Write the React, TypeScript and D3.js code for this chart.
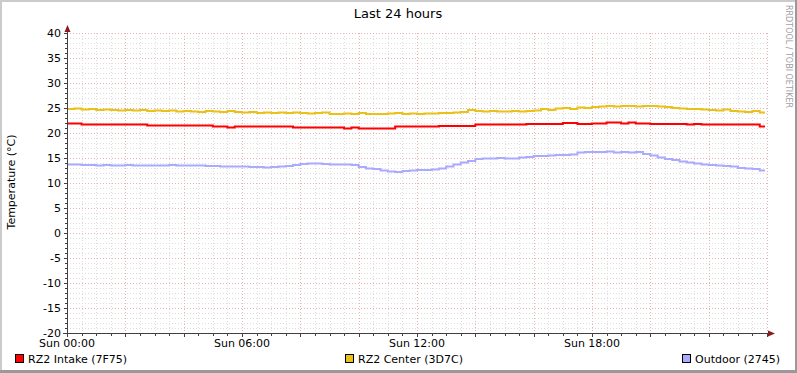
import React from "react";
import * as d3 from "d3";

const W = 797;
const H = 373;

const title = "Last 24 hours";
const yAxisLabel = "Temperature (°C)";
const watermark = "RRDTOOL / TOBI OETIKER";

const xTickLabels = ["Sun 00:00", "Sun 06:00", "Sun 12:00", "Sun 18:00"];
const xTickHours = [0, 6, 12, 18];
const yTickValues = [40, 35, 30, 25, 20, 15, 10, 5, 0, -5, -10, -15, -20];

const seriesNames = ["RZ2 Intake (7F75)", "RZ2 Center (3D7C)", "Outdoor (2745)"];
const seriesColors = ["#FF0000", "#EAC117", "#AAAAFF"];

// samples every 15 minutes from Sun 00:00
const stepHours = 0.25;
const endHour = 23.93;

const intake = [
  21.9, 21.9, 21.7, 21.7, 21.7, 21.7, 21.7, 21.7, 21.7, 21.7, 21.7, 21.5,
  21.5, 21.5, 21.5, 21.5, 21.5, 21.5, 21.5, 21.5, 21.3, 21.3, 21.1, 21.3,
  21.3, 21.3, 21.3, 21.3, 21.3, 21.3, 21.3, 21.1, 21.1, 21.1, 21.1, 21.1,
  21.1, 21.1, 20.9, 21.1, 20.9, 20.9, 20.9, 20.9, 20.9, 21.3, 21.3, 21.3,
  21.3, 21.3, 21.3, 21.4, 21.4, 21.4, 21.4, 21.4, 21.7, 21.7, 21.7, 21.7,
  21.7, 21.7, 21.7, 21.8, 21.8, 21.8, 21.8, 21.8, 22.0, 22.0, 21.8, 21.8,
  21.9, 21.9, 22.1, 22.1, 21.9, 22.1, 21.9, 21.9, 21.8, 21.8, 21.8, 21.8,
  21.8, 21.7, 21.8, 21.7, 21.7, 21.7, 21.7, 21.7, 21.7, 21.7, 21.7, 21.3,
];

const center = [
  24.8, 24.9, 24.7, 24.8, 24.6, 24.7, 24.6, 24.5, 24.6, 24.5, 24.6, 24.4,
  24.5, 24.4, 24.5, 24.3, 24.4, 24.3, 24.2, 24.4, 24.3, 24.2, 24.4, 24.2,
  24.1, 24.2, 24.0, 24.1, 24.0, 24.1, 24.0, 24.1, 24.0, 23.9, 24.0, 24.1,
  23.8, 23.8, 23.9, 23.8, 24.0, 23.8, 23.8, 23.8, 23.9, 24.0, 23.8, 23.9,
  23.8, 23.9, 23.9, 24.0, 24.0, 24.1, 24.2, 24.6, 24.4, 24.3, 24.4, 24.3,
  24.3, 24.4, 24.3, 24.4, 24.5, 24.8, 24.6, 24.9, 25.0, 24.8, 25.1, 25.0,
  25.2, 25.3, 25.4, 25.3, 25.4, 25.4, 25.3, 25.4, 25.4, 25.3, 25.2, 25.0,
  24.9, 24.8, 24.8, 24.7, 24.6, 24.5, 24.7, 24.4, 24.3, 24.2, 24.4, 24.1,
];

const outdoor = [
  13.7, 13.7, 13.6, 13.6, 13.5, 13.6, 13.5, 13.5, 13.6, 13.5, 13.5, 13.5,
  13.5, 13.5, 13.6, 13.5, 13.5, 13.5, 13.5, 13.4, 13.4, 13.3, 13.3, 13.3,
  13.3, 13.2, 13.2, 13.1, 13.2, 13.3, 13.4, 13.6, 13.8, 13.9, 13.9, 13.8,
  13.7, 13.7, 13.7, 13.6, 13.2, 12.9, 12.8, 12.5, 12.3, 12.2, 12.4, 12.5,
  12.6, 12.6, 12.7, 12.9, 13.3, 13.7, 14.1, 14.4, 14.8, 14.9, 14.9, 15.0,
  14.9, 14.9, 15.1, 15.2, 15.4, 15.4, 15.5, 15.6, 15.6, 15.7, 16.1, 16.2,
  16.2, 16.2, 16.3, 16.1, 16.2, 16.1, 16.2, 15.8, 15.5, 15.1, 14.8, 14.6,
  14.3, 14.1, 13.9, 13.7, 13.6, 13.5, 13.4, 13.3, 13.0, 12.9, 12.8, 12.5,
];

const seriesValues = [intake, center, outdoor];

const legendX = [15, 345, 682];

const FONT = "'DejaVu Sans', sans-serif";

export default function App() {
  const x = d3.scaleLinear().domain([0, 24]).range([67, 767]);
  const y = d3.scaleLinear().domain([-20, 40]).range([333, 33]);

  const minorX = d3.range(0, 24.001, 0.5);
  const majorX = d3.range(0, 24.001, 2);
  const minorY = d3.range(-20, 40.001, 1);
  const majorY = yTickValues;

  const line = d3
    .line<[number, number]>()
    .x((d) => x(d[0]))
    .y((d) => y(d[1]))
    .curve(d3.curveStepAfter);

  const toPts = (vals: number[]): [number, number][] => {
    const pts: [number, number][] = vals.map((v, i) => [i * stepHours, v]);
    pts.push([endHour, vals[vals.length - 1]]);
    return pts;
  };

  return (
    <svg
      width={W}
      height={H}
      style={{ position: "absolute", left: 0, top: 0, display: "block", background: "#fff" }}
      fontFamily={FONT}
    >
      <rect x={0} y={0} width={W} height={H} fill="#ffffff" />
      {/* 3D border */}
      <rect x={0} y={0} width={W} height={2} fill="#CBCBCB" />
      <rect x={0} y={0} width={2} height={H} fill="#CBCBCB" />
      <rect x={0} y={H - 3} width={W} height={3} fill="#999999" />
      <rect x={W - 2} y={0} width={2} height={H} fill="#999999" />

      {/* minor grid */}
      <g stroke="#DDDDDD" strokeWidth={1} strokeDasharray="1,2" shapeRendering="crispEdges">
        {minorX
          .filter((h) => !majorX.includes(h))
          .map((h) => (
            <line key={"mx" + h} x1={Math.round(x(h)) + 0.5} x2={Math.round(x(h)) + 0.5} y1={33} y2={333} />
          ))}
        {minorY
          .filter((v) => v % 5 !== 0)
          .map((v) => (
            <line key={"my" + v} x1={67} x2={767} y1={y(v) + 0.5} y2={y(v) + 0.5} />
          ))}
      </g>
      {/* major grid */}
      <g stroke="#EBB0B0" strokeWidth={1} strokeDasharray="1,2" shapeRendering="crispEdges">
        {majorX.map((h) => (
          <line key={"Mx" + h} x1={Math.round(x(h)) + 0.5} x2={Math.round(x(h)) + 0.5} y1={33} y2={333} />
        ))}
        {majorY.map((v) => (
          <line key={"My" + v} x1={67} x2={767} y1={y(v) + 0.5} y2={y(v) + 0.5} />
        ))}
      </g>

      {/* series */}
      {seriesValues.map((vals, i) => (
        <path key={"s" + i} d={line(toPts(vals)) || ""} fill="none" stroke={seriesColors[i]} strokeWidth={2} />
      ))}

      {/* axes */}
      <g stroke="#404040" strokeWidth={1} shapeRendering="crispEdges">
        <line x1={67.5} x2={67.5} y1={28} y2={337} />
        <line x1={63} x2={771} y1={333.5} y2={333.5} />
        {minorY.map((v) => (
          <line key={"ty" + v} x1={v % 5 === 0 ? 64 : 65} x2={67} y1={y(v) + 0.5} y2={y(v) + 0.5} />
        ))}
        {minorX.map((h) => (
          <line key={"tx" + h} x1={Math.round(x(h)) + 0.5} x2={Math.round(x(h)) + 0.5} y1={334} y2={h % 2 === 0 ? 337 : 336} />
        ))}
      </g>
      <path d="M64.5,32 L67.5,25 L70.5,32 Z" fill="#8B1A1A" />
      <path d="M768,330.5 L775,333.5 L768,336.5 Z" fill="#8B1A1A" />

      {/* y tick labels */}
      <g fontSize={11} fill="#000" textAnchor="end">
        {yTickValues.map((v) => (
          <text key={"yl" + v} x={61} y={y(v) + 4}>
            {v}
          </text>
        ))}
      </g>
      {/* x tick labels */}
      <g fontSize={11} fill="#000" textAnchor="middle">
        {xTickHours.map((h, i) => (
          <text key={"xl" + h} x={x(h)} y={347}>
            {xTickLabels[i]}
          </text>
        ))}
      </g>

      {/* title */}
      <text x={398} y={18} fontSize={13} textAnchor="middle" fill="#000">
        {title}
      </text>
      {/* y axis label */}
      <text transform="translate(15,182) rotate(-90)" fontSize={11} textAnchor="middle" fill="#000">
        {yAxisLabel}
      </text>
      {/* watermark */}
      <text
        transform="translate(786,5) rotate(90)"
        fontSize={8}
        fill="#A0A0A0"
        textLength={103}
        lengthAdjust="spacing"
      >
        {watermark}
      </text>

      {/* legend */}
      {seriesNames.map((name, i) => (
        <g key={"lg" + i}>
          <rect x={legendX[i] + 0.5} y={354.5} width={8} height={8} fill={seriesColors[i]} stroke="#000" strokeWidth={1} shapeRendering="crispEdges" />
          <text x={legendX[i] + 13} y={363} fontSize={11} fill="#000">
            {name}
          </text>
        </g>
      ))}
    </svg>
  );
}
